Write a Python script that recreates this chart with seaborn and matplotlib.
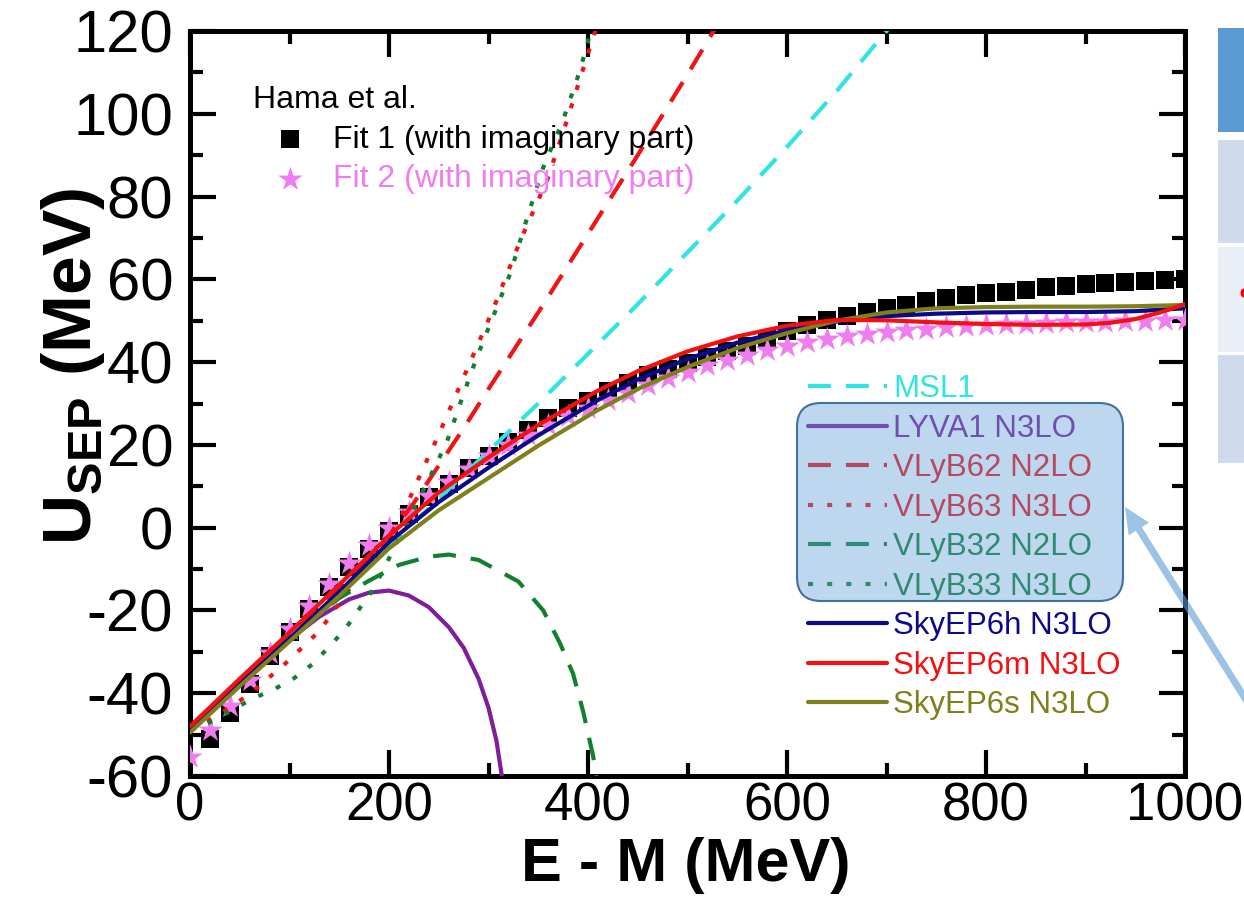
import matplotlib
matplotlib.use('Agg')
import matplotlib.pyplot as plt
from matplotlib.patches import FancyBboxPatch, Rectangle, Ellipse, FancyArrow
from matplotlib.transforms import IdentityTransform
from matplotlib.ticker import MultipleLocator
import seaborn as sns

# Hama et al. fits
fit1_e = [20, 40, 60, 80, 100, 120, 140, 160, 180, 200, 220, 240, 260, 280, 300, 320, 340, 360, 380, 400,
          420, 440, 460, 480, 500, 520, 540, 560, 580, 600, 620, 640, 660, 680, 700, 720, 740, 760, 780, 800,
          820, 840, 860, 880, 900, 920, 940, 960, 980, 1000]
fit1_u = [-51.0, -44.7, -37.8, -31.0, -25.3, -19.7, -14.4, -9.6, -5.2, -0.7, 3.4, 7.3, 10.6, 14.3, 17.4, 20.6, 23.5, 26.4, 28.8, 30.7,
          33.0, 35.0, 36.8, 38.4, 39.8, 41.2, 42.6, 44.0, 45.6, 47.4, 49.0, 50.1, 51.1, 52.1, 53.0, 53.8, 54.7, 55.4, 56.1, 56.6,
          57.0, 57.5, 58.1, 58.5, 58.9, 59.2, 59.4, 59.6, 59.8, 60.0]
fit2_e = [0, 20, 40, 60, 80, 100, 120, 140, 160, 180, 200, 220, 240, 260, 280, 300, 320, 340, 360, 380, 400,
          420, 440, 460, 480, 500, 520, 540, 560, 580, 600, 620, 640, 660, 680, 700, 720, 740, 760, 780, 800,
          820, 840, 860, 880, 900, 920, 940, 960, 980, 1000]
fit2_u = [-55.5, -49.0, -43.0, -36.8, -30.3, -24.5, -18.9, -13.6, -8.6, -4.2, 0.0, 3.9, 7.6, 11.0, 14.2, 17.2, 19.9, 22.5, 24.9, 27.0, 29.0,
          30.8, 32.6, 34.4, 36.1, 37.7, 39.2, 40.6, 41.8, 42.9, 43.9, 44.8, 45.5, 46.2, 46.8, 47.3, 47.8, 48.1, 48.4, 48.7, 48.9,
          49.1, 49.3, 49.4, 49.6, 49.7, 49.8, 49.9, 50.0, 50.1, 50.2]

# model curves
msl1_e = [0, 50, 100, 150, 200, 250, 300, 350, 400, 450, 500, 550, 600, 650, 700, 720]
msl1_u = [-49, -37.5, -26.5, -15.5, -4.5, 7, 18.5, 30, 42, 54, 66.5, 79, 92, 105.5, 120, 126]

lyva1_e = [0, 50, 100, 130, 160, 180, 200, 220, 240, 260, 275, 290, 300, 308, 314]
lyva1_u = [-49, -37.5, -27, -21.5, -17.3, -15.7, -15.2, -16.4, -19.2, -24.0, -29, -36.5, -43.5, -51.5, -61]

vlyb62_e = [0, 50, 100, 150, 200, 225, 250, 275, 300, 350, 400, 450, 500, 530]
vlyb62_u = [-49, -37.5, -26.5, -15, -2, 6, 15, 24, 33.5, 52, 71, 90, 109.5, 121.5]

vlyb63_e = [0, 30, 60, 95, 130, 170, 195, 215, 230, 250, 278, 305, 332, 359, 379, 399, 410]
vlyb63_u = [-49, -45, -40.2, -33, -25, -11.5, -4.5, 4, 12, 22.5, 38, 53, 69.4, 84, 98.5, 113.8, 122]

vlyb32_e = [0, 50, 100, 150, 180, 210, 240, 260, 290, 330, 355, 372, 385, 395, 405, 409]
vlyb32_u = [-49, -37.5, -26.5, -17, -12.8, -9, -7, -6.5, -7.8, -13, -20, -28, -35.3, -44.3, -55, -61]

vlyb33_e = [0, 23, 62, 85, 105, 123, 139, 156, 169, 183, 194, 215, 236, 258, 273, 288, 306, 322, 339, 355, 375, 392, 404]
vlyb33_u = [-49, -46.7, -41.4, -39, -36.3, -33, -29, -24.5, -20, -15.3, -10.4, 0, 9.7, 20.6, 31, 41, 51.8, 61.5, 75, 87, 98.5, 110.5, 121]

sky_e = [0, 50, 100, 150, 200, 250, 300, 350, 409, 450, 500, 550, 600, 650, 700, 750, 800, 850, 900, 950, 1000]
sky6h_u = [-49, -37.8, -26.8, -15.5, -3.5, 6.2, 14.5, 22.3, 30.7, 35.8, 40.8, 44.7, 47.7, 49.8, 51.1, 51.7, 52.0, 52.1, 52.1, 52.3, 53.0]
sky6s_u = [-49.5, -38.3, -27.5, -16.5, -5.0, 4.2, 12.0, 19.8, 28.3, 33.5, 38.8, 43.4, 47.0, 50.0, 52.0, 53.0, 53.3, 53.4, 53.4, 53.5, 53.8]
sky6m_e = [0, 50, 100, 150, 200, 250, 300, 350, 409, 450, 500, 550, 600, 650, 700, 750, 800, 850, 900, 925, 950, 975, 1000]
sky6m_u = [-48, -36.5, -25.3, -13.8, -2.0, 8.5, 17.0, 24.8, 33.0, 37.8, 42.6, 46.2, 48.8, 50.2, 50.1, 49.6, 49.2, 49.0, 49.1, 49.5, 50.4, 52.0, 54.0]

names = ['MSL1', 'LYVA1 N3LO', 'VLyB62 N2LO', 'VLyB63 N3LO', 'VLyB32 N2LO', 'VLyB33 N3LO',
         'SkyEP6h N3LO', 'SkyEP6m N3LO', 'SkyEP6s N3LO']
energies = [msl1_e, lyva1_e, vlyb62_e, vlyb63_e, vlyb32_e, vlyb33_e, sky_e, sky6m_e, sky_e]
potentials = [msl1_u, lyva1_u, vlyb62_u, vlyb63_u, vlyb32_u, vlyb33_u, sky6h_u, sky6m_u, sky6s_u]
colors = ['#30e4e4', '#7e1e98', '#f01414', '#f01414', '#12802e', '#12802e', '#0b0b8a', '#f41010', '#80801a']
dash = (0, (5.5, 3.6))
dot = (0, (1.2, 3.4))
styles = [dash, '-', dash, dot, dash, dot, '-', '-', '-']
violet = '#f07df0'

sns.set_theme(style='ticks')
plt.rcParams['font.family'] = ['Liberation Sans', 'DejaVu Sans']
plt.rcParams['mathtext.fontset'] = 'custom'
plt.rcParams['mathtext.rm'] = 'Liberation Sans'
plt.rcParams['mathtext.bf'] = 'Liberation Sans:bold'
plt.rcParams['axes.unicode_minus'] = False
for k in ['text.color', 'axes.labelcolor', 'xtick.color', 'ytick.color', 'axes.edgecolor']:
    plt.rcParams[k] = 'black'

W, H = 1244, 906
fig = plt.figure(figsize=(W / 100, H / 100), dpi=100)
ax = fig.add_axes([190 / W, 1 - 776 / H, 995 / W, 745 / H])

sns.scatterplot(x=fit1_e, y=fit1_u, marker='s', s=170, color='black', linewidth=0,
                legend=False, ax=ax, zorder=2)
fit1_h = ax.collections[-1]
sns.scatterplot(x=fit2_e, y=fit2_u, marker='*', s=340, color=violet, linewidth=0,
                legend=False, ax=ax, zorder=3)
fit2_h = ax.collections[-1]

handles = []
for name, e, u, c, ls in zip(names, energies, potentials, colors, styles):
    sns.lineplot(x=e, y=u, color=c, linewidth=3, linestyle=ls, sort=False,
                 estimator=None, legend=False, ax=ax, zorder=5 if name == 'SkyEP6m N3LO' else 4)
    handles.append(ax.lines[-1])

ax.set_xlim(0, 1000)
ax.set_ylim(-60, 120)
ax.xaxis.set_major_locator(MultipleLocator(200))
ax.xaxis.set_minor_locator(MultipleLocator(100))
ax.yaxis.set_major_locator(MultipleLocator(20))
ax.yaxis.set_minor_locator(MultipleLocator(10))
ax.tick_params(which='both', direction='in', top=True, right=True, width=3, color='black')
ax.tick_params(which='major', length=19)
ax.tick_params(which='minor', length=9.5)
ax.tick_params(axis='x', labelsize=38, pad=4)
ax.tick_params(axis='y', labelsize=43, pad=12)
for s in ax.spines.values():
    s.set_linewidth(3.6)

ax.set_xlabel('E - M (MeV)', fontsize=44, fontweight='bold')
ax.xaxis.set_label_coords(0.498, -0.082)
ax.set_ylabel(r'U$_{\mathbf{SEP}}$ (MeV)', fontsize=50, fontweight='bold')
ax.yaxis.set_label_coords(-0.083, 0.55)

leg1 = ax.legend([fit1_h, fit2_h], ['Fit 1 (with imaginary part)', 'Fit 2 (with imaginary part)'],
                 title='Hama et al.', alignment='left', loc='upper left',
                 bbox_to_anchor=(253 / W, 1 - 85 / H), bbox_transform=fig.transFigure,
                 frameon=False, fontsize=23, title_fontsize=23, borderpad=0, borderaxespad=0,
                 handlelength=2.32, handletextpad=0.19, labelspacing=0.3,
                 labelcolor=['black', violet])
ax.add_artist(leg1)

leg2 = ax.legend(handles, names, loc='upper left',
                 bbox_to_anchor=(808 / W, 1 - 374 / H), bbox_transform=fig.transFigure,
                 frameon=False, fontsize=22.5, borderpad=0, borderaxespad=0,
                 handlelength=2.53, handletextpad=0.19, labelspacing=0.305,
                 labelcolor=colors)

# highlight box round part of the legend
box = FancyBboxPatch((797, H - 601), 326, 198, boxstyle='round,pad=0,rounding_size=24',
                     transform=IdentityTransform(), facecolor=(0.357, 0.608, 0.835, 0.4),
                     edgecolor='#41719c', linewidth=1.5, zorder=10)
fig.add_artist(box)

# arrow pointing at the box
arrow = FancyArrow(1258, H - 719, 1125 - 1258, 719 - 507, width=7, head_width=24, head_length=26,
                   length_includes_head=True, transform=IdentityTransform(),
                   facecolor=(0.357, 0.608, 0.835, 0.6), edgecolor='none', zorder=11)
fig.add_artist(arrow)

# cut-off table at the right edge
for top, bot, c in [(28, 132, '#5b9bd5'), (140, 243, '#cfdaed'), (247, 352, '#e9eef7'), (355, 463, '#cfdaed')]:
    fig.add_artist(Rectangle((1218, H - bot), 30, bot - top, transform=IdentityTransform(),
                             facecolor=c, edgecolor='none'))
fig.add_artist(Ellipse((1244, H - 293), 7, 9, transform=IdentityTransform(), facecolor='red', edgecolor='none'))

fig.savefig('out.png', dpi=100)
